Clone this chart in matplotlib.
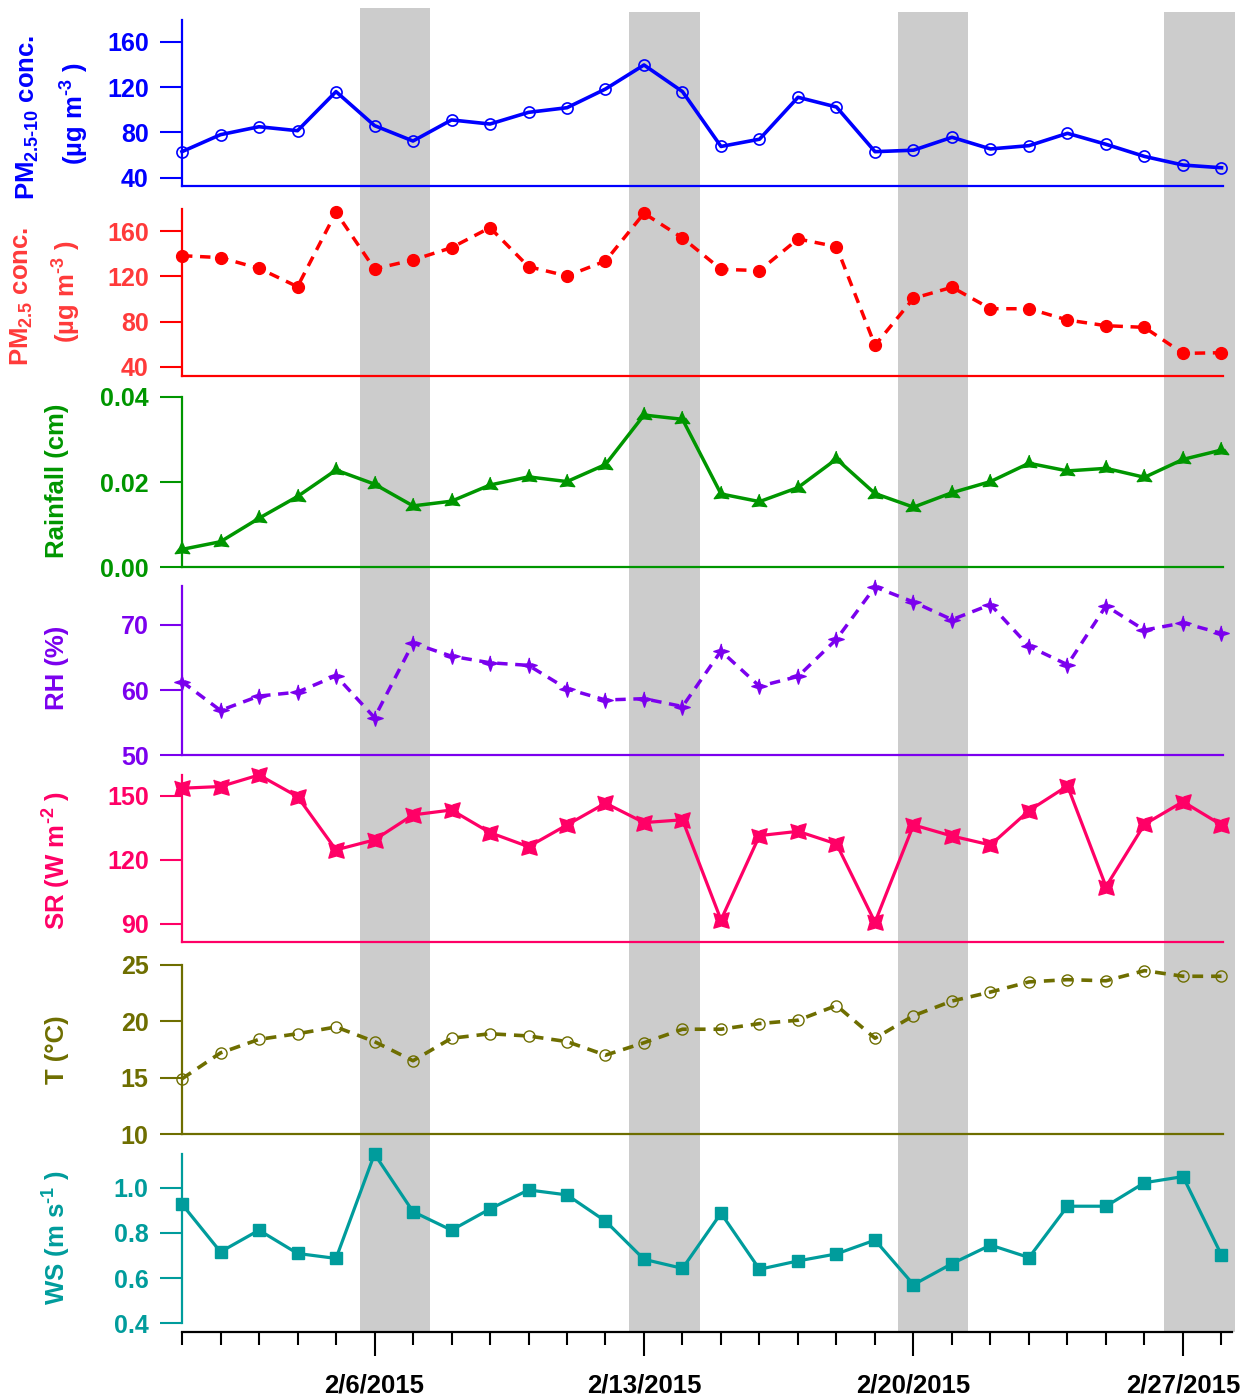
import numpy as np
import matplotlib
matplotlib.use("Agg")
import matplotlib.pyplot as plt
import matplotlib.transforms as mtransforms
from matplotlib.patches import Rectangle

plt.rcParams["font.family"] = ["Liberation Sans", "DejaVu Sans"]
plt.rcParams["font.weight"] = "bold"
plt.rcParams["mathtext.fontset"] = "custom"
plt.rcParams["mathtext.rm"] = "Liberation Sans:bold"
plt.rcParams["mathtext.it"] = "Liberation Sans:bold"
plt.rcParams["mathtext.bf"] = "Liberation Sans:bold"
plt.rcParams["mathtext.default"] = "bf"

# --- data (February 2015, daily) ---
days = np.arange(1, 29)
pm_coarse = [63, 78, 85, 81.5, 116, 86, 72.4, 91, 87.4, 97.7, 101.8, 118.3, 139.5, 116,
             67.6, 74, 111, 102.4, 63, 64.3, 75.7, 65.4, 68.3, 79.2, 69.5, 58.8, 51.2, 48.8]
pm_fine = [138.2, 136.5, 127, 110.8, 176.6, 126.5, 134.4, 145.3, 163, 128.5, 120.3, 133.5,
           175.7, 153.9, 126.2, 125, 153, 146.2, 58.9, 100.5, 110.3, 91.3, 91.3, 81.3, 76.3,
           74.8, 51.8, 52.4]
rainfall = [0.0042, 0.0060, 0.0115, 0.0166, 0.0228, 0.0195, 0.0144, 0.0155, 0.0193, 0.0212,
            0.0201, 0.0241, 0.0357, 0.0347, 0.0172, 0.0154, 0.0187, 0.0254, 0.0173, 0.0141,
            0.0175, 0.0201, 0.0244, 0.0226, 0.0232, 0.0211, 0.0253, 0.0275]
rh = [61.3, 56.9, 59.1, 59.7, 62.2, 55.8, 67.2, 65.2, 64.2, 63.8, 60.2, 58.5, 58.7, 57.5,
      66.0, 60.6, 62.1, 67.8, 75.8, 73.5, 70.8, 73.1, 66.7, 63.9, 72.9, 69.2, 70.3, 68.7]
sr = [153.6, 154.4, 159.8, 149.7, 124.7, 129.4, 141.1, 143.4, 132.8, 126.2, 136.4, 146.6,
      137.5, 138.8, 91.9, 131.4, 133.4, 127.5, 90.8, 136.4, 131.2, 127.0, 143.1, 154.7,
      107.5, 136.7, 147.3, 136.4]
temp = [14.9, 17.2, 18.4, 18.9, 19.5, 18.2, 16.5, 18.5, 18.9, 18.7, 18.2, 17.0, 18.1, 19.3,
        19.3, 19.8, 20.1, 21.4, 18.5, 20.5, 21.8, 22.6, 23.5, 23.7, 23.6, 24.5, 24.0, 24.0]
ws = [0.927, 0.716, 0.812, 0.709, 0.687, 1.149, 0.894, 0.812, 0.906, 0.990, 0.968, 0.852,
      0.683, 0.643, 0.887, 0.639, 0.676, 0.707, 0.768, 0.571, 0.664, 0.746, 0.691, 0.918,
      0.918, 1.022, 1.049, 0.702]

major_days = [6, 13, 20, 27]
major_labels = ["2/6/2015", "2/13/2015", "2/20/2015", "2/27/2015"]
bands = [(5.62, 7.44), (12.61, 14.45), (19.6, 21.42), (26.5, 28.35)]

W, H = 1253, 1398
fig = plt.figure(figsize=(W / 100, H / 100), dpi=100)

X0_PX, DAY_PX = 182, 38.5
XLIM = (1, 28.05)
HY = "\u2010"  # plain hyphen inside mathtext (a bare '-' turns into a long minus)


def star(n, inner, rot=0.0):
    ang = np.deg2rad(rot) + np.pi / 2 + np.arange(2 * n) * np.pi / n
    r = np.where(np.arange(2 * n) % 2 == 0, 1.0, inner)
    return list(zip(r * np.cos(ang), r * np.sin(ang)))


def panel(top, bottom):
    right = X0_PX + (XLIM[1] - XLIM[0]) * DAY_PX
    ax = fig.add_axes([X0_PX / W, 1 - bottom / H, (right - X0_PX) / W, (bottom - top) / H])
    ax.set_facecolor("none")
    ax.set_xlim(*XLIM)
    for s in ("top", "right"):
        ax.spines[s].set_visible(False)
    return ax


def style(ax, color, ticks, labels, ylim, hide_x=True):
    ax.set_ylim(*ylim)
    ax.set_yticks(ticks)
    ax.set_yticklabels(labels)
    ax.tick_params(axis="y", colors=color, length=16, width=1.5, pad=8, labelsize=18)
    for lab in ax.get_yticklabels():
        lab.set_fontweight("bold")
    ax.spines["left"].set_color(color)
    ax.spines["bottom"].set_color(color)
    ax.spines["left"].set_linewidth(1.6)
    ax.spines["bottom"].set_linewidth(1.6)
    if hide_x:
        ax.set_xticks([])


specs = [
    (20, 186), (209, 376), (396.7, 567.3), (586, 755.5), (775, 942.3), (965, 1134), (1154, 1332),
]
axes = [panel(t, b) for t, b in specs]

BLUE, RED, RED_T = "#0000FF", "#FF0000", "#FF3A3A"
GREEN, PURPLE, PINK = "#009600", "#7B00EE", "#FF0066"
OLIVE, TEAL = "#6E6E00", "#009C9C"

ax = axes[0]
ax.plot(days, pm_coarse, color=BLUE, lw=2.6, marker="o", ms=8, mfc="none", mew=1.2, clip_on=False)
style(ax, BLUE, [40, 80, 120, 160], ["40", "80", "120", "160"], (32.7, 179.2))

ax = axes[1]
ax.plot(days, pm_fine, color=RED, lw=2.5, ls=(0, (3, 2.2)), marker="o", ms=8.5, clip_on=False)
style(ax, RED, [40, 80, 120, 160], ["40", "80", "120", "160"], (31.8, 179.5))
ax.tick_params(axis="y", labelcolor=RED_T)

ax = axes[2]
ax.plot(days, rainfall, color=GREEN, lw=2.5, marker=star(3, 0.4), ms=12, clip_on=False)
style(ax, GREEN, [0, 0.02, 0.04], ["0.00", "0.02", "0.04"], (0, 0.04))

ax = axes[3]
ax.plot(days, rh, color=PURPLE, lw=2.5, ls=(0, (3, 2.2)), marker=star(4, 0.35), ms=11, clip_on=False)
style(ax, PURPLE, [50, 60, 70], ["50", "60", "70"], (50, 75.95))

ax = axes[4]
ax.plot(days, sr, color=PINK, lw=2.3, marker=star(4, 0.5, rot=45), ms=11, clip_on=False)
style(ax, PINK, [90, 120, 150], ["90", "120", "150"], (81.4, 159.8))

ax = axes[5]
ax.plot(days, temp, color=OLIVE, lw=2.6, ls=(0, (3, 2.2)), marker="o", ms=8, mfc="none",
        mew=1.0, clip_on=False)
style(ax, OLIVE, [10, 15, 20, 25], ["10", "15", "20", "25"], (10, 25))

ax = axes[6]
ax.plot(days, ws, color=TEAL, lw=2.3, marker="s", ms=8.5, clip_on=False)
style(ax, TEAL, [0.4, 0.6, 0.8, 1.0], ["0.4", "0.6", "0.8", "1.0"], (0.3615, 1.149), hide_x=False)
ax.spines["left"].set_bounds(0.4, 1.149)
ax.spines["bottom"].set_color("black")
ax.spines["bottom"].set_bounds(1, 28.27)
ax.set_xticks(major_days)
ax.set_xticklabels(major_labels)
ax.set_xticks(days, minor=True)
ax.tick_params(axis="x", which="major", length=17, width=1.5, pad=13, labelsize=18.5, colors="black")
ax.tick_params(axis="x", which="minor", length=9.5, width=1.5, colors="black")
for lab in ax.get_xticklabels():
    lab.set_fontweight("bold")

# grey highlight bands spanning all panels
trans = mtransforms.blended_transform_factory(axes[6].transData, fig.transFigure)
for i, (x0, x1) in enumerate(bands):
    top_px = 8 if i == 0 else 12
    rect = Rectangle((x0, 1 - 1332 / H), x1 - x0, (1332 - top_px) / H, transform=trans,
                     facecolor="#CCCCCC", edgecolor="none", zorder=-1)
    fig.add_artist(rect)


def label(x, y, text, color):
    fig.text(x / W, 1 - y / H, text, rotation=90, ha="center", va="center",
             color=color, fontsize=18.5, fontweight="bold")


label(28, 117, r"PM$_{2.5" + HY + r"10}$ conc.", BLUE)
label(75, 114, r"(µg m$^{" + HY + r"3}$ )", BLUE)
label(22, 296, r"PM$_{2.5}$ conc.", RED_T)
label(67, 292, r"(µg m$^{" + HY + r"3}$ )", RED_T)
label(57, 481, "Rainfall (cm)", GREEN)
label(57, 668, "RH (%)", PURPLE)
label(57, 860, r"SR (W m$^{" + HY + r"2}$ )", PINK)
label(57, 1050, "T (°C)", OLIVE)
label(57, 1238, r"WS (m s$^{" + HY + r"1}$ )", TEAL)

fig.savefig("out.png", dpi=100)
